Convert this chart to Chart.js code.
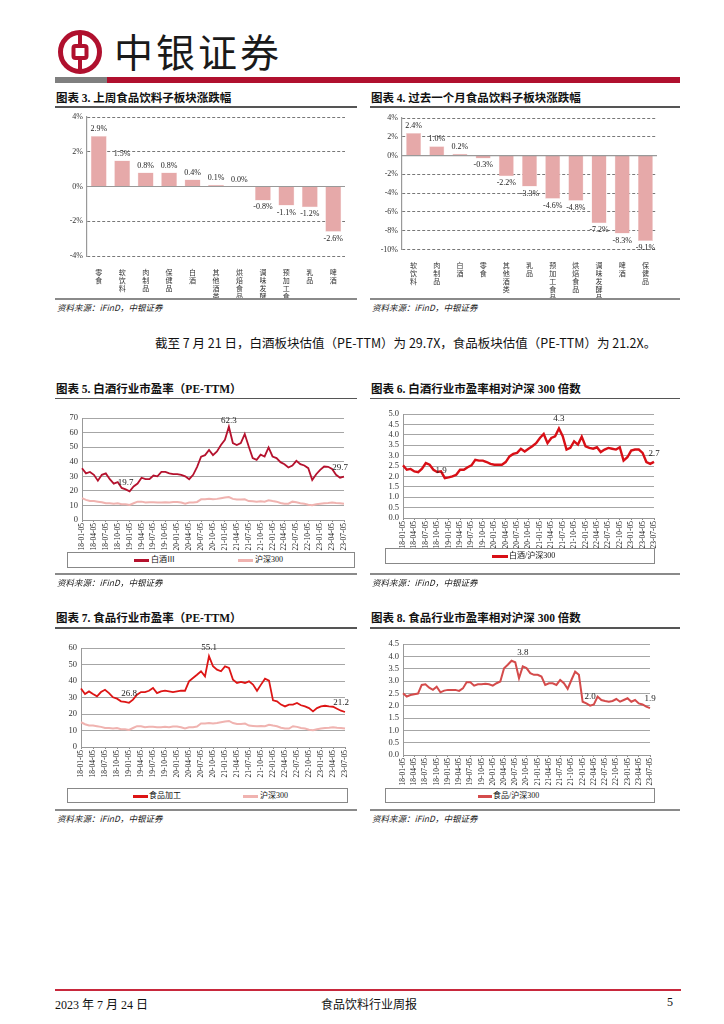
<!DOCTYPE html>
<html><head><meta charset="utf-8">
<script src="https://cdn.jsdelivr.net/npm/chart.js@4.4.0/dist/chart.umd.min.js"></script>
<style>
body{margin:0;background:#fff;width:724px;height:1024px;position:relative;overflow:hidden;font-family:"Liberation Serif","Noto Sans CJK SC",serif;color:#111;}
.a{position:absolute;}
.title{font-family:"Liberation Serif","Noto Sans CJK SC";font-weight:700;font-size:11.5px;white-space:nowrap;line-height:14px;}
.uline{height:1.5px;background:#555;}
.sep{height:2px;background:#8a8a8a;}
.src{font-family:"Noto Sans CJK SC";font-style:italic;font-size:8.5px;white-space:nowrap;color:#222;}
.leg{border:1px solid #888;box-sizing:border-box;background:#fff;}
.li{position:absolute;font-family:"Liberation Serif","Noto Sans CJK SC";font-size:8px;white-space:nowrap;line-height:10px;}
.ls{position:absolute;height:2.5px;}
canvas{position:absolute;}
</style></head>
<body>
<!-- header -->
<svg class="a" style="left:56px;top:28px" width="48" height="48" viewBox="0 0 48 48">
  <circle cx="24" cy="24" r="19.5" fill="none" stroke="#b0102e" stroke-width="5"/>
  <rect x="17.5" y="18" width="13" height="12" rx="2" fill="none" stroke="#b0102e" stroke-width="4"/>
  <line x1="24" y1="5" x2="24" y2="18" stroke="#b0102e" stroke-width="4"/>
  <line x1="24" y1="30" x2="24" y2="43" stroke="#b0102e" stroke-width="4"/>
</svg>
<div class="a" style="left:114px;top:26px;font-family:'Noto Sans CJK SC';font-size:39px;letter-spacing:3px;color:#1a1a1a;line-height:48px;">中银证券</div>
<div class="a" style="left:55px;top:77px;width:52px;height:6px;background:#7f7f7f"></div>
<div class="a" style="left:107px;top:77px;width:573px;height:6px;background:#b0102e"></div>

<!-- chart 3 / 4 -->
<div class="a title" style="left:56px;top:91px">图表 3. 上周食品饮料子板块涨跌幅</div>
<div class="a uline" style="left:55px;top:106px;width:302px"></div>
<div class="a title" style="left:371px;top:91px">图表 4. 过去一个月食品饮料子板块涨跌幅</div>
<div class="a uline" style="left:370px;top:106px;width:310px"></div>
<canvas id="c3" style="left:50px;top:108px" width="310" height="190"></canvas>
<canvas id="c4" style="left:365px;top:109px" width="320" height="189"></canvas>
<div class="a sep" style="left:55px;top:298px;width:302px"></div>
<div class="a sep" style="left:370px;top:298px;width:310px"></div>
<div class="a src" style="left:57px;top:301px">资料来源：iFinD，中银证券</div>
<div class="a src" style="left:372px;top:301px">资料来源：iFinD，中银证券</div>

<div class="a" style="left:155px;top:334px;font-family:'Noto Sans CJK SC';font-size:12.5px;white-space:nowrap;line-height:18px;">截至 7 月 21 日，白酒板块估值（PE-TTM）为 29.7X，食品板块估值（PE-TTM）为 21.2X。</div>

<!-- chart 5 / 6 -->
<div class="a title" style="left:56px;top:382px">图表 5. 白酒行业市盈率（PE-TTM）</div>
<div class="a uline" style="left:55px;top:397.5px;width:302px"></div>
<div class="a title" style="left:371px;top:382px">图表 6. 白酒行业市盈率相对沪深 300 倍数</div>
<div class="a uline" style="left:370px;top:397.5px;width:310px"></div>
<canvas id="c5" style="left:50px;top:408px" width="310" height="145"></canvas>
<canvas id="c6" style="left:365px;top:404px" width="320" height="145"></canvas>
<div class="a leg" style="left:67px;top:552px;width:288px;height:16px">
  <div class="ls" style="left:66px;top:6px;width:15px;background:#b5122e"></div>
  <div class="li" style="left:83px;top:2px">白酒Ⅲ</div>
  <div class="ls" style="left:170px;top:6px;width:15px;background:#f0b3b0"></div>
  <div class="li" style="left:187px;top:2px">沪深300</div>
</div>
<div class="a leg" style="left:385px;top:548px;width:270px;height:16px">
  <div class="ls" style="left:106px;top:6px;width:16px;background:#d80f16"></div>
  <div class="li" style="left:123px;top:2px">白酒/沪深300</div>
</div>
<div class="a sep" style="left:55px;top:573px;width:302px"></div>
<div class="a sep" style="left:370px;top:573px;width:310px"></div>
<div class="a src" style="left:57px;top:576px">资料来源：iFinD，中银证券</div>
<div class="a src" style="left:372px;top:576px">资料来源：iFinD，中银证券</div>

<!-- chart 7 / 8 -->
<div class="a title" style="left:56px;top:611px">图表 7. 食品行业市盈率（PE-TTM）</div>
<div class="a uline" style="left:55px;top:627px;width:302px"></div>
<div class="a title" style="left:371px;top:611px">图表 8. 食品行业市盈率相对沪深 300 倍数</div>
<div class="a uline" style="left:370px;top:627px;width:310px"></div>
<canvas id="c7" style="left:50px;top:638px" width="310" height="149"></canvas>
<canvas id="c8" style="left:365px;top:634px" width="320" height="153"></canvas>
<div class="a leg" style="left:67px;top:788px;width:281px;height:15px">
  <div class="ls" style="left:65px;top:6px;width:15px;background:#dd1515"></div>
  <div class="li" style="left:81px;top:2px">食品加工</div>
  <div class="ls" style="left:175px;top:6px;width:15px;background:#f0b3b0"></div>
  <div class="li" style="left:192px;top:2px">沪深300</div>
</div>
<div class="a leg" style="left:385px;top:788px;width:270px;height:15px">
  <div class="ls" style="left:92px;top:6px;width:14px;background:#d44b4b"></div>
  <div class="li" style="left:107px;top:2px">食品/沪深300</div>
</div>
<div class="a sep" style="left:55px;top:809px;width:302px"></div>
<div class="a sep" style="left:370px;top:809px;width:310px"></div>
<div class="a src" style="left:57px;top:812px">资料来源：iFinD，中银证券</div>
<div class="a src" style="left:372px;top:812px">资料来源：iFinD，中银证券</div>

<!-- footer -->
<div class="a" style="left:55px;top:989px;width:626px;height:2px;background:#c8283c"></div>
<div class="a" style="left:55px;top:995px;font-size:12px;font-family:'Liberation Serif','Noto Sans CJK SC';white-space:nowrap">2023 年 7 月 24 日</div>
<div class="a" style="left:321px;top:995px;font-size:12px;font-family:'Noto Sans CJK SC';white-space:nowrap">食品饮料行业周报</div>
<div class="a" style="left:667px;top:995px;font-size:12px;font-family:'Liberation Serif'">5</div>

<script>
// ---------- DATA ----------
const weekCats = ['零食','软饮料','肉制品','保健品','白酒','其他酒类','烘焙食品','调味发酵品','预加工食品','乳品','啤酒'];
const weekVals = [2.9,1.5,0.8,0.8,0.4,0.1,0.0,-0.8,-1.1,-1.2,-2.6];
const monthCats = ['软饮料','肉制品','白酒','零食','其他酒类','乳品','预加工食品','烘焙食品','调味发酵品','啤酒','保健品'];
const monthVals = [2.4,1.0,0.2,-0.3,-2.2,-3.3,-4.6,-4.8,-7.2,-8.3,-9.1];

const dates = ["18-01-05","18-02-05","18-03-05","18-04-05","18-05-05","18-06-05","18-07-05","18-08-05","18-09-05","18-10-05","18-11-05","18-12-05",
"19-01-05","19-02-05","19-03-05","19-04-05","19-05-05","19-06-05","19-07-05","19-08-05","19-09-05","19-10-05","19-11-05","19-12-05",
"20-01-05","20-02-05","20-03-05","20-04-05","20-05-05","20-06-05","20-07-05","20-08-05","20-09-05","20-10-05","20-11-05","20-12-05",
"21-01-05","21-02-05","21-03-05","21-04-05","21-05-05","21-06-05","21-07-05","21-08-05","21-09-05","21-10-05","21-11-05","21-12-05",
"22-01-05","22-02-05","22-03-05","22-04-05","22-05-05","22-06-05","22-07-05","22-08-05","22-09-05","22-10-05","22-11-05","22-12-05",
"23-01-05","23-02-05","23-03-05","23-04-05","23-05-05","23-06-05","23-07-05"];

const baijiuPE = [35.5,32,33,31,27,31,32,28,25,26,22,21,
19.7,23,25,29,28,28,30.5,30,33,33,32,31.5,
31.5,31,30,28,31,36.5,43.5,44.5,48,44.5,47,51.5,
55,64,52.8,51.5,52.8,59,50.5,42.5,41.3,44.8,43.6,49.8,
43.6,42.5,39.7,38.3,36,37.4,40.6,38.3,37.4,35.6,27.5,31.4,
34.4,36.7,36.5,35,31,29,29.7];
const hs300PE = [15,13.8,13,13,12.6,12.2,11.5,11.5,11.2,11.5,10.8,10.8,
10.3,11.5,12.6,12.6,12,12.2,12.2,12,12,12.2,12,12.4,
12.4,12,11.2,12,12,12.4,14.2,14.2,14.5,14.2,14.5,15,
15.4,15.8,14.5,14,14,14.2,13,12.8,12.6,12.8,12.6,13.5,
13,12.6,11.7,11.2,11.2,12.6,12.2,11.5,11.2,10.5,10.1,10.8,
11.2,11.5,11.7,12,11.7,11.5,11.2];
const baijiuRel = [2.53,2.32,2.36,2.24,2.2,2.37,2.64,2.56,2.32,2.21,2.24,1.92,
1.95,2.0,2.08,2.32,2.32,2.44,2.53,2.8,2.76,2.76,2.69,2.6,
2.56,2.56,2.56,2.69,2.96,3.08,3.13,3.33,3.2,3.33,3.45,3.6,
3.85,4.04,3.6,3.85,3.93,4.3,3.93,3.29,3.37,3.69,3.53,3.91,
3.45,3.37,3.33,3.4,3.17,3.29,3.37,3.33,3.29,3.4,2.76,2.92,
3.24,3.29,3.29,3.13,2.69,2.6,2.7];
const foodPE = [35.4,32.1,33.7,32.1,30.7,33.3,34.7,32.7,30.1,29.3,27.7,27.3,
26.8,28.7,31.7,33.3,33.3,34.1,35.8,32.7,33.7,34.1,33.7,33.3,
33.7,34.1,34.1,39.8,41.8,43.8,45.9,42.8,55.1,48.9,46.9,45.9,
48.9,47.9,40.8,38.8,39.4,38.8,39.8,37.8,34.1,37.8,41.4,40.2,
28.3,27.7,25.7,24.6,25.7,25.7,26.7,25.3,24.6,23.6,21.6,23.6,
24.6,25.0,24.6,24.4,23.2,22.0,21.2];
const foodRel = [2.5,2.37,2.43,2.46,2.49,2.84,2.87,2.73,2.64,2.77,2.54,2.61,
2.64,2.64,2.64,2.6,2.7,2.95,2.95,2.81,2.87,2.87,2.89,2.87,
2.81,2.91,2.98,3.52,3.66,3.82,3.76,3.11,3.59,3.52,3.32,3.25,
3.25,3.18,2.84,2.91,2.91,2.84,3.04,2.91,2.68,3.04,3.38,3.25,
2.16,2.09,2.0,2.05,2.37,2.23,2.19,2.16,2.19,2.27,2.16,2.23,
2.3,2.16,2.23,2.09,2.05,1.96,1.9];

// annotation texts: [index, y-position value, text]
const notes5 = [[11,25.5,'19.7'],[37,68,'62.3'],[65,36,'29.7']];
const notes6 = [[10,2.3,'1.9'],[41,4.78,'4.3'],[66,3.1,'2.7']];
const notes7 = [[12,32.5,'26.8'],[32,60.2,'55.1'],[65,27,'21.2']];
const notes8 = [[32,4.15,'3.8'],[50,2.38,'2.0'],[66,2.3,'1.9']];

// ---------- HELPERS ----------
const NUMFONT = "'Liberation Serif','Noto Sans CJK SC'";
Chart.defaults.font.family = NUMFONT;
Chart.defaults.color = '#222';
Chart.defaults.animation = false;

function notesPlugin(notes){
  return {id:'notes', afterDatasetsDraw(chart){
    const ctx=chart.ctx, xs=chart.scales.x, ys=chart.scales.y;
    ctx.save(); ctx.font="9px "+NUMFONT; ctx.fillStyle='#222'; ctx.textAlign='center'; ctx.textBaseline='middle';
    notes.forEach(n=>{ ctx.fillText(n[2], xs.getPixelForValue(n[0]), ys.getPixelForValue(n[1])); });
    ctx.restore();
  }};
}
const barPlugin = {id:'barvals', afterDatasetsDraw(chart){
  const ctx=chart.ctx, meta=chart.getDatasetMeta(0), ys=chart.scales.y, xs=chart.scales.x;
  ctx.save();
  const y0=ys.getPixelForValue(0);
  ctx.strokeStyle='#999'; ctx.lineWidth=1.2; ctx.beginPath(); ctx.moveTo(xs.left,y0); ctx.lineTo(xs.right,y0); ctx.stroke();
  ctx.font="8px "+NUMFONT; ctx.fillStyle='#222'; ctx.textAlign='center';
  const vals=chart.data.datasets[0].data;
  meta.data.forEach((b,i)=>{
    const v=vals[i], t=v.toFixed(1)+'%';
    if(v>=0){ ctx.textBaseline='bottom'; ctx.fillText(t,b.x,b.y-3); }
    else { ctx.textBaseline='top'; ctx.fillText(t,b.x,b.y+3); }
  });
  ctx.restore();
}};

function barChart(id, cats, vals, min, max, yW, xH, padR, padT, bp){
  new Chart(document.getElementById(id), {
    type:'bar',
    data:{labels:cats.map(s=>s.split('')), datasets:[{data:vals, backgroundColor:'#e6a9a9', borderColor:'#f3d4d4', borderWidth:0.5, barPercentage:bp, categoryPercentage:1}]},
    options:{responsive:false, maintainAspectRatio:false,
      layout:{padding:{top:padT,right:padR,left:0,bottom:0}},
      plugins:{legend:{display:false},tooltip:{enabled:false}},
      scales:{
        x:{grid:{display:false}, border:{display:false},
           ticks:{maxRotation:0,minRotation:0,autoSkip:false,padding:4,font:{size:7,family:"'Noto Sans CJK SC'",lineHeight:1.15},color:'#333'},
           afterFit:s=>{s.height=xH;}},
        y:{min:min,max:max,ticks:{stepSize:2,autoSkip:false,callback:v=>v+'%',font:{size:8},padding:4,color:'#333'},
           grid:{color:'#555',lineWidth:0.8,drawTicks:false}, border:{display:true,color:'#999',width:1.2,dash:[3,2]},
           afterFit:s=>{s.width=yW;}}
      }},
    plugins:[barPlugin]
  });
}

function lineChart(id, sets, min, max, step, dec, yW, xH, padR, padT, notes){
  new Chart(document.getElementById(id), {
    type:'line',
    data:{labels:dates, datasets:sets.map(s=>({data:s.data, borderColor:s.color, borderWidth:s.w, pointRadius:0, tension:0, fill:false}))},
    options:{responsive:false, maintainAspectRatio:false,
      layout:{padding:{top:padT,right:padR,left:0,bottom:0}},
      plugins:{legend:{display:false},tooltip:{enabled:false}},
      scales:{
        x:{offset:false, grid:{display:true,drawOnChartArea:false,tickLength:2,color:c=>(c.index%3===0?'#888':'rgba(0,0,0,0)')},
           border:{display:true,color:'#999'},
           ticks:{autoSkip:false,maxRotation:90,minRotation:90,padding:1,font:{size:7.5},color:'#222',
             callback:function(v,i){return i%3===0?this.getLabelForValue(v):'';}},
           afterFit:s=>{s.height=xH;}},
        y:{min:min,max:max,ticks:{stepSize:step,autoSkip:false,callback:v=>Number(v).toFixed(dec),font:{size:8.5},padding:4,color:'#333'},
           grid:{color:'#a6a6a6',lineWidth:1,drawTicks:false}, border:{display:true,color:'#999'},
           afterFit:s=>{s.width=yW;}}
      }},
    plugins:[notesPlugin(notes)]
  });
}

// ---------- CHARTS ----------
barChart('c3', weekCats, weekVals, -4, 4, 37, 42, 15, 9, 0.68);
barChart('c4', monthCats, monthVals, -10, 4, 37, 48.5, 28, 9, 0.65);
lineChart('c5', [{data:baijiuPE,color:'#b5122e',w:1.8},{data:hs300PE,color:'#f0b3b0',w:2}], 0, 70, 10, 0, 32, 33, 16, 10, notes5);
lineChart('c6', [{data:baijiuRel,color:'#d80f16',w:2.4}], 0, 5, 0.5, 1, 38, 31, 31, 10, notes6);
lineChart('c7', [{data:foodPE,color:'#dd1515',w:1.8},{data:hs300PE,color:'#f0b3b0',w:2}], 0, 60, 10, 0, 31, 40, 15, 10, notes7);
lineChart('c8', [{data:foodRel,color:'#d44b4b',w:2}], 0, 4.5, 0.5, 1, 38, 32, 35, 10, notes8);
</script>
</body></html>
